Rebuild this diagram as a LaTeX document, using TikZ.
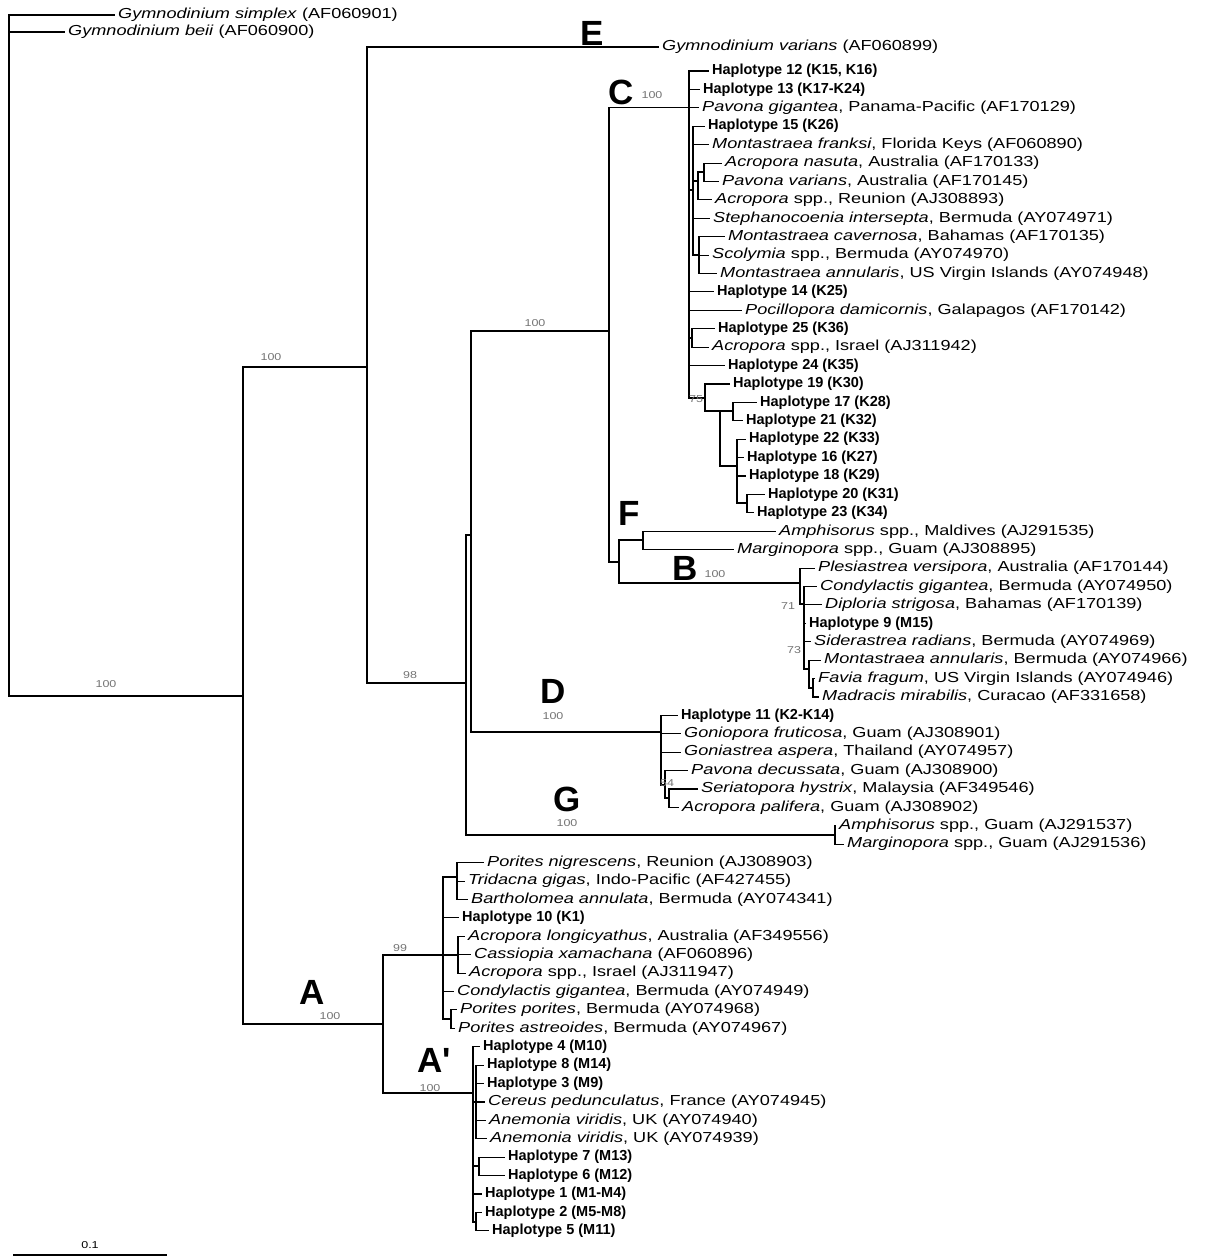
\documentclass[tikz,border=0pt]{standalone}
\usepackage{fontspec}
\setmainfont{Liberation Sans}[FakeStretch=1.25]
\newfontfamily\hapfont{Liberation Sans}
\begin{document}
\begin{tikzpicture}[x=1pt,y=-1pt,
  declare function={ry(\i)=71+18.41*\i;},
  br/.style={line width=1.1pt},
  leaf/.style={anchor=west,inner xsep=3pt,inner ysep=0pt,font=\fontsize{14.5}{14.5}\selectfont},
  hap/.style={leaf,font=\hapfont\bfseries\fontsize{14.5}{14.5}\selectfont},
  bs/.style={inner sep=0pt,font=\fontsize{10}{10}\selectfont,text=black!55},
  clade/.style={inner sep=0pt,font=\hapfont\bfseries\fontsize{35}{35}\selectfont}]
\useasboundingbox (0,0) rectangle (1209,1259);
% ---------- internal nodes
\coordinate (R) at (9,300);
\coordinate (N1) at (243,696);
\coordinate (N2) at (367,367);
\coordinate (NX) at (466,683);
\coordinate (NY) at (471,535);
\coordinate (NCFB) at (609,331);
\coordinate (NC) at (689,107.8);
\coordinate (S1) at (693,190);
\coordinate (S2) at (698,181);
\coordinate (S3) at (704,172);
\coordinate (S4) at (699,255);
\coordinate (S25) at (692,338);
\coordinate (S5) at (705,398);
\coordinate (S7) at (720,411);
\coordinate (S7a) at (733,411);
\coordinate (S8) at (737,466);
\coordinate (S9) at (747,503);
\coordinate (NFB) at (619,562);
\coordinate (NF) at (643,540);
\coordinate (NB) at (800,583);
\coordinate (NB1) at (804,604);
\coordinate (NB3) at (809,669);
\coordinate (NB4) at (813,688);
\coordinate (ND) at (661,732);
\coordinate (ND2) at (665,785);
\coordinate (ND3) at (669,798);
\coordinate (NG) at (835,835);
\coordinate (NA) at (383,1024);
\coordinate (NA1) at (443,955);
\coordinate (NP) at (457,877);
\coordinate (NAc) at (458,955);
\coordinate (NPp) at (451,1019);
\coordinate (NA2) at (473,1093);
\coordinate (NA5) at (476,1102);
\coordinate (NA3) at (479,1166);
\coordinate (NA4) at (476,1222);
% ---------- leaves
\node[leaf] (gsim) at (115,15) {\textit{Gymnodinium simplex} (AF060901)};
\node[leaf] (gbei) at (65,32) {\textit{Gymnodinium beii} (AF060900)};
\node[leaf] (gvar) at (659,47) {\textit{Gymnodinium varians} (AF060899)};
% C
\node[hap] (h12) at (709,{ry(0)}) {Haplotype 12 (K15, K16)};
\node[hap] (h13) at (700,{ry(1)}) {Haplotype 13 (K17-K24)};
\node[leaf] (pavgig) at (699,{ry(2)}) {\textit{Pavona gigantea}, Panama-Pacific (AF170129)};
\node[hap] (h15) at (705,{ry(3)}) {Haplotype 15 (K26)};
\node[leaf] (mfr) at (709,{ry(4)}) {\textit{Montastraea franksi}, Florida Keys (AF060890)};
\node[leaf] (anas) at (722,{ry(5)}) {\textit{Acropora nasuta}, Australia (AF170133)};
\node[leaf] (pvar) at (719,{ry(6)}) {\textit{Pavona varians}, Australia (AF170145)};
\node[leaf] (acrreu) at (712,{ry(7)}) {\textit{Acropora} spp., Reunion (AJ308893)};
\node[leaf] (steph) at (710,{ry(8)}) {\textit{Stephanocoenia intersepta}, Bermuda (AY074971)};
\node[leaf] (mcav) at (725,{ry(9)}) {\textit{Montastraea cavernosa}, Bahamas (AF170135)};
\node[leaf] (scol) at (709,{ry(10)}) {\textit{Scolymia} spp., Bermuda (AY074970)};
\node[leaf] (mannus) at (717,{ry(11)}) {\textit{Montastraea annularis}, US Virgin Islands (AY074948)};
\node[hap] (h14) at (714,{ry(12)}) {Haplotype 14 (K25)};
\node[leaf] (poc) at (742,{ry(13)}) {\textit{Pocillopora damicornis}, Galapagos (AF170142)};
\node[hap] (h25) at (715,{ry(14)}) {Haplotype 25 (K36)};
\node[leaf] (acrisr) at (709,{ry(15)}) {\textit{Acropora} spp., Israel (AJ311942)};
\node[hap] (h24) at (725,{ry(16)}) {Haplotype 24 (K35)};
\node[hap] (h19) at (730,{ry(17)}) {Haplotype 19 (K30)};
\node[hap] (h17) at (757,{ry(18)}) {Haplotype 17 (K28)};
\node[hap] (h21) at (743,{ry(19)}) {Haplotype 21 (K32)};
\node[hap] (h22) at (746,{ry(20)}) {Haplotype 22 (K33)};
\node[hap] (h16) at (744,{ry(21)}) {Haplotype 16 (K27)};
\node[hap] (h18) at (746,{ry(22)}) {Haplotype 18 (K29)};
\node[hap] (h20) at (765,{ry(23)}) {Haplotype 20 (K31)};
\node[hap] (h23) at (754,{ry(24)}) {Haplotype 23 (K34)};
% F
\node[leaf] (amphm) at (776,{ry(25)}) {\textit{Amphisorus} spp., Maldives (AJ291535)};
\node[leaf] (margm) at (734,{ry(26)}) {\textit{Marginopora} spp., Guam (AJ308895)};
% B
\node[leaf] (ples) at (815,{ry(27)}) {\textit{Plesiastrea versipora}, Australia (AF170144)};
\node[leaf] (condb) at (817,{ry(28)}) {\textit{Condylactis gigantea}, Bermuda (AY074950)};
\node[leaf] (dipl) at (822,{ry(29)}) {\textit{Diploria strigosa}, Bahamas (AF170139)};
\node[hap] (h9) at (806,{ry(30)}) {Haplotype 9 (M15)};
\node[leaf] (sid) at (811,{ry(31)}) {\textit{Siderastrea radians}, Bermuda (AY074969)};
\node[leaf] (mannb) at (821,{ry(32)}) {\textit{Montastraea annularis}, Bermuda (AY074966)};
\node[leaf] (favia) at (815,{ry(33)}) {\textit{Favia fragum}, US Virgin Islands (AY074946)};
\node[leaf] (madr) at (819,{ry(34)}) {\textit{Madracis mirabilis}, Curacao (AF331658)};
% D
\node[hap] (h11) at (678,{ry(35)}) {Haplotype 11 (K2-K14)};
\node[leaf] (gonio) at (681,{ry(36)}) {\textit{Goniopora fruticosa}, Guam (AJ308901)};
\node[leaf] (gonia) at (681,{ry(37)}) {\textit{Goniastrea aspera}, Thailand (AY074957)};
\node[leaf] (pavdec) at (688,{ry(38)}) {\textit{Pavona decussata}, Guam (AJ308900)};
\node[leaf] (seri) at (698,{ry(39)}) {\textit{Seriatopora hystrix}, Malaysia (AF349546)};
\node[leaf] (acrpal) at (679,{ry(40)}) {\textit{Acropora palifera}, Guam (AJ308902)};
% G
\node[leaf] (amphg) at (836,{ry(41)}) {\textit{Amphisorus} spp., Guam (AJ291537)};
\node[leaf] (margg) at (844,{ry(42)}) {\textit{Marginopora} spp., Guam (AJ291536)};
% A
\node[leaf] (porn) at (484,{ry(43)}) {\textit{Porites nigrescens}, Reunion (AJ308903)};
\node[leaf] (trid) at (465,{ry(44)}) {\textit{Tridacna gigas}, Indo-Pacific (AF427455)};
\node[leaf] (bart) at (468,{ry(45)}) {\textit{Bartholomea annulata}, Bermuda (AY074341)};
\node[hap] (h10) at (459,{ry(46)}) {Haplotype 10 (K1)};
\node[leaf] (acrlong) at (465,{ry(47)}) {\textit{Acropora longicyathus}, Australia (AF349556)};
\node[leaf] (cass) at (471,{ry(48)}) {\textit{Cassiopia xamachana} (AF060896)};
\node[leaf] (acrisr2) at (466,{ry(49)}) {\textit{Acropora} spp., Israel (AJ311947)};
\node[leaf] (condb2) at (454,{ry(50)}) {\textit{Condylactis gigantea}, Bermuda (AY074949)};
\node[leaf] (porp) at (457,{ry(51)}) {\textit{Porites porites}, Bermuda (AY074968)};
\node[leaf] (pora) at (455,{ry(52)}) {\textit{Porites astreoides}, Bermuda (AY074967)};
% A'
\node[hap] (h4) at (480,{ry(53)}) {Haplotype 4 (M10)};
\node[hap] (h8) at (484,{ry(54)}) {Haplotype 8 (M14)};
\node[hap] (h3) at (484,{ry(55)}) {Haplotype 3 (M9)};
\node[leaf] (cereus) at (485,{ry(56)}) {\textit{Cereus pedunculatus}, France (AY074945)};
\node[leaf] (anem1) at (486,{ry(57)}) {\textit{Anemonia viridis}, UK (AY074940)};
\node[leaf] (anem2) at (487,{ry(58)}) {\textit{Anemonia viridis}, UK (AY074939)};
\node[hap] (h7) at (505,{ry(59)}) {Haplotype 7 (M13)};
\node[hap] (h6) at (505,{ry(60)}) {Haplotype 6 (M12)};
\node[hap] (h1) at (482,{ry(61)}) {Haplotype 1 (M1-M4)};
\node[hap] (h2) at (482,{ry(62)}) {Haplotype 2 (M5-M8)};
\node[hap] (h5) at (489,{ry(63)}) {Haplotype 5 (M11)};
% ---------- branches
\draw[br] (R) |- (gsim.west);
\draw[br] (R) |- (gbei.west);
\draw[br] (R) |- (N1);
\draw[br] (N1) |- (N2);
\draw[br] (N1) |- (NA);
\draw[br] (N2) |- (gvar.west);
\draw[br] (N2) |- (NX);
\draw[br] (NX) |- (NY);
\draw[br] (NX) |- (NG);
\draw[br] (NY) |- (NCFB);
\draw[br] (NY) |- (ND);
\draw[br] (NCFB) |- (NC);
\draw[br] (NCFB) |- (NFB);
% C
\foreach \c in {h12,h13,pavgig,h14,poc,h24} \draw[br] (NC) |- (\c.west);
\draw[br] (NC) |- (S1);
\draw[br] (NC) |- (S25);
\draw[br] (NC) |- (S5);
\foreach \c in {h15,mfr,steph} \draw[br] (S1) |- (\c.west);
\draw[br] (S1) |- (S2);
\draw[br] (S1) |- (S4);
\draw[br] (S2) |- (S3);
\draw[br] (S2) |- (acrreu.west);
\draw[br] (S3) |- (anas.west);
\draw[br] (S3) |- (pvar.west);
\foreach \c in {mcav,scol,mannus} \draw[br] (S4) |- (\c.west);
\draw[br] (S25) |- (h25.west);
\draw[br] (S25) |- (acrisr.west);
\draw[br] (S5) |- (h19.west);
\draw[br] (S5) |- (S7);
\draw[br] (S7) |- (S7a);
\draw[br] (S7) |- (S8);
\draw[br] (S7a) |- (h17.west);
\draw[br] (S7a) |- (h21.west);
\foreach \c in {h22,h16,h18} \draw[br] (S8) |- (\c.west);
\draw[br] (S8) |- (S9);
\draw[br] (S9) |- (h20.west);
\draw[br] (S9) |- (h23.west);
% F, B
\draw[br] (NFB) |- (NF);
\draw[br] (NFB) |- (NB);
\draw[br] (NF) |- (amphm.west);
\draw[br] (NF) |- (margm.west);
\draw[br] (NB) |- (ples.west);
\draw[br] (NB) |- (NB1);
\foreach \c in {condb,dipl,h9,sid} \draw[br] (NB1) |- (\c.west);
\draw[br] (NB1) |- (NB3);
\draw[br] (NB3) |- (mannb.west);
\draw[br] (NB3) |- (NB4);
\draw[br] (NB4) |- (favia.west);
\draw[br] (NB4) |- (madr.west);
% D, G
\foreach \c in {h11,gonio,gonia} \draw[br] (ND) |- (\c.west);
\draw[br] (ND) |- (ND2);
\draw[br] (ND2) |- (pavdec.west);
\draw[br] (ND2) |- (ND3);
\draw[br] (ND3) |- (seri.west);
\draw[br] (ND3) |- (acrpal.west);
\draw[br] (NG) |- (amphg.west);
\draw[br] (NG) |- (margg.west);
% A
\draw[br] (NA) |- (NA1);
\draw[br] (NA) |- (NA2);
\draw[br] (NA1) |- (NP);
\draw[br] (NA1) |- (h10.west);
\draw[br] (NA1) |- (NAc);
\draw[br] (NA1) |- (condb2.west);
\draw[br] (NA1) |- (NPp);
\foreach \c in {porn,trid,bart} \draw[br] (NP) |- (\c.west);
\foreach \c in {acrlong,cass,acrisr2} \draw[br] (NAc) |- (\c.west);
\draw[br] (NPp) |- (porp.west);
\draw[br] (NPp) |- (pora.west);
\draw[br] (NA2) |- (h4.west);
\draw[br] (NA2) |- (NA5);
\draw[br] (NA2) |- (NA3);
\draw[br] (NA2) |- (h1.west);
\draw[br] (NA2) |- (NA4);
\foreach \c in {h8,h3,cereus,anem1,anem2} \draw[br] (NA5) |- (\c.west);
\draw[br] (NA3) |- (h7.west);
\draw[br] (NA3) |- (h6.west);
\draw[br] (NA4) |- (h2.west);
\draw[br] (NA4) |- (h5.west);
% ---------- clade letters
\node[clade] (lE) at (592,33) {E};
\node[clade] (lC) at (621,92) {C};
\node[clade] (lF) at (629,513) {F};
\node[clade] (lB) at (685,568) {B};
\node[clade] (lD) at (553,691) {D};
\node[clade] (lG) at (567,799) {G};
\node[clade] (lA) at (312,992) {A};
\node[clade] (lAp) at (434,1060) {A'};
% ---------- bootstrap values
\node[bs] (b1) at (106,684) {100};
\node[bs] (b2) at (271,357) {100};
\node[bs] (b3) at (410,675) {98};
\node[bs] (b4) at (535,323) {100};
\node[bs] (b5) at (652,95) {100};
\node[bs] (b6) at (715,574) {100};
\node[bs] (b7) at (553,716) {100};
\node[bs] (b8) at (567,823) {100};
\node[bs] (b9) at (330,1016) {100};
\node[bs] (b10) at (430,1088) {100};
\node[bs] (b11) at (400,948) {99};
\node[bs] (b12) at (788,606) {71};
\node[bs] (b13) at (794,650) {73};
\node[bs] (b14) at (667,783) {54};
\node[bs] (b15) at (696,399) {75};
% ---------- scale bar
\coordinate (sb1) at (13,1255);
\coordinate (sb2) at (167,1255);
\draw[br] (sb1) -- (sb2);
\node[bs,text=black] (sbl) at (90,1245) {0.1};
\end{tikzpicture}
\end{document}
